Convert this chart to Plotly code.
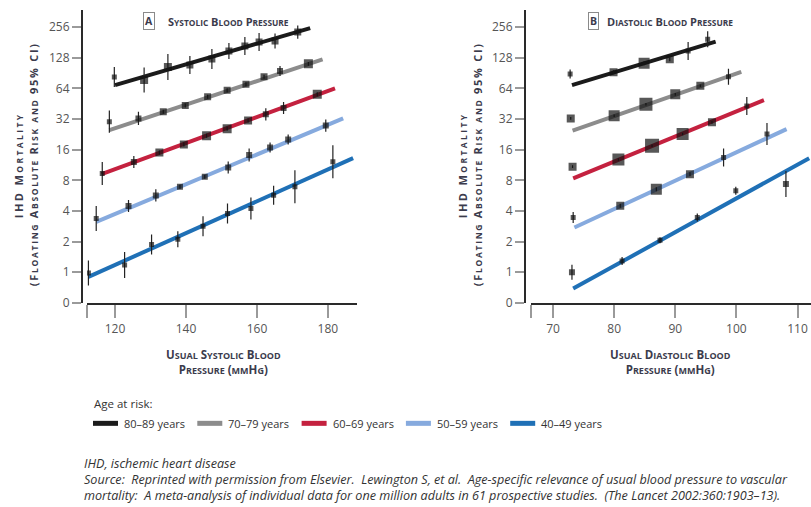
import plotly.graph_objects as go

# ---------------- data ----------------
age_groups = ["80–89 years", "70–79 years", "60–69 years", "50–59 years", "40–49 years"]
group_colors = ["#1b1b1b", "#8c8c8c", "#c4213f", "#86aade", "#1f70b6"]

# Panel A: usual systolic blood pressure (mmHg) vs IHD mortality
sbp_x = [
    [119.8, 128.2, 134.9, 141.1, 147.3, 152.1, 156.6, 160.6, 165.1, 171.5],
    [118.4, 126.6, 133.6, 139.8, 146.1, 151.6, 156.9, 162.0, 166.5, 174.5],
    [116.4, 125.3, 132.5, 139.4, 145.8, 151.6, 157.5, 162.5, 167.5, 177.0],
    [114.7, 123.8, 131.5, 138.3, 145.3, 151.9, 157.8, 163.7, 168.8, 179.4],
    [112.5, 122.7, 130.3, 137.7, 144.8, 151.7, 158.3, 164.7, 170.7, 181.4],
]
sbp_risk = [
    [82.8, 77.4, 104.0, 108.7, 124.6, 149.3, 167.5, 183.0, 187.0, 229.0],
    [30.2, 32.5, 37.8, 43.6, 53.1, 61.3, 70.2, 83.4, 95.0, 111.6],
    [9.35, 12.1, 15.0, 18.0, 21.9, 25.7, 31.0, 35.6, 41.1, 56.1],
    [3.37, 4.48, 5.69, 6.91, 8.65, 10.67, 14.2, 16.8, 20.2, 27.6],
    [0.98, 1.18, 1.87, 2.11, 2.83, 3.78, 4.23, 5.72, 6.91, 12.2],
]
# multiplicative half-width of the 95% CI (risk / f .. risk * f)
sbp_ci = [
    [1.254, 1.327, 1.342, 1.226, 1.254, 1.199, 1.226, 1.226, 1.185, 1.159],
    [1.283, 1.159, 1.046, 1.046, 1.046, 1.046, 1.046, 1.046, 1.120, 1.046],
    [1.297, 1.146, 1.046, 1.046, 1.046, 1.046, 1.046, 1.146, 1.146, 1.046],
    [1.327, 1.146, 1.146, 1.046, 1.046, 1.146, 1.159, 1.120, 1.120, 1.146],
    [1.327, 1.342, 1.254, 1.199, 1.254, 1.254, 1.283, 1.240, 1.453, 1.453],
]
# square size reflects the amount of information in each group
sbp_weight = [
    [5, 8, 8, 7, 7, 7, 7, 7, 7, 7],
    [5, 6, 7, 7, 7, 7, 7, 7, 6, 9],
    [5, 6, 8, 8, 9, 9, 8, 6, 6, 9],
    [5, 6, 6, 6, 6, 6, 6, 6, 6, 6],
    [5, 5, 5, 5, 5, 5, 5, 5, 5, 5],
]
# fitted regression lines: (bp start, bp end), (risk start, risk end)
sbp_fit_x = [[120.0, 175.0], [118.4, 178.5], [116.2, 182.0], [114.7, 184.3], [112.5, 187.1]]
sbp_fit_y = [[69.0, 251.0], [24.9, 123.7], [9.2, 64.0], [3.12, 32.5], [0.9, 13.2]]

# Panel B: usual diastolic blood pressure (mmHg) vs IHD mortality
dbp_x = [
    [72.8, 79.9, 84.9, 89.1, 92.1, 95.3],
    [72.9, 80.0, 85.2, 90.0, 94.1, 98.7],
    [73.2, 80.7, 86.2, 91.2, 96.0, 101.7],
    [73.3, 81.0, 86.9, 92.4, 97.9, 105.0],
    [73.1, 81.3, 87.5, 93.6, 99.9, 108.1],
]
dbp_risk = [
    [88.7, 92.3, 113.0, 123.7, 149.3, 194.5],
    [32.5, 34.5, 44.7, 56.0, 68.0, 83.4],
    [10.9, 12.8, 17.5, 22.8, 29.7, 42.9],
    [3.45, 4.49, 6.55, 9.2, 13.4, 22.8],
    [1.0, 1.29, 2.06, 3.45, 6.31, 7.35],
]
dbp_ci = [
    [1.107, 1.046, 1.046, 1.046, 1.226, 1.199],
    [1.030, 1.030, 1.030, 1.030, 1.030, 1.199],
    [1.030, 1.030, 1.030, 1.030, 1.030, 1.226],
    [1.133, 1.046, 1.046, 1.046, 1.226, 1.283],
    [1.185, 1.095, 1.070, 1.095, 1.095, 1.342],
]
dbp_weight = [
    [5, 8, 11, 8, 5, 5],
    [8, 11, 13, 10, 8, 5],
    [8, 12, 14, 12, 8, 5],
    [5, 8, 11, 8, 5, 5],
    [6, 5, 5, 5, 5, 6],
]
dbp_fit_x = [[73.1, 96.6], [73.2, 100.8], [73.3, 104.5], [73.5, 108.2], [73.3, 111.9]]
dbp_fit_y = [[69.1, 184.6], [24.6, 93.0], [8.35, 49.2], [2.75, 25.5], [0.69, 13.2]]

risk_ticks = [0.5, 1, 2, 4, 8, 16, 32, 64, 128, 256]
risk_ticktext = ["0", "1", "2", "4", "8", "16", "32", "64", "128", "256"]
sbp_ticks = [112.1, 120, 140, 160, 180]
sbp_ticktext = ["", "120", "140", "160", "180"]
dbp_ticks = [66.4, 70, 80, 90, 100, 110]
dbp_ticktext = ["", "70", "80", "90", "100", "110"]

# ---------------- helpers ----------------
TITLE_COLOR = "#3b3b4c"
TEXT_FONT = "Open Sans"
W, H = 811, 507
H_PLACE = 498.6  # vertical extent used when placing items in paper coordinates


def px_x(p):
    return p / W


def px_y(p):
    return 1 - p / H_PLACE


def small_caps(text, small_px, spacing=0):
    """Render lowercase letters as reduced capitals."""
    out = []
    sp = f"letter-spacing:{spacing}px;" if spacing else ""
    buf, lower = "", None

    def flush():
        if not buf:
            return
        if lower:
            out.append(f'<span style="font-size:{small_px}px;{sp}">{buf.upper()}</span>')
        else:
            out.append(f'<span style="{sp}">{buf}</span>' if sp else buf)

    for ch in text:
        is_low = ch.islower()
        if lower is None or is_low == lower:
            buf += ch
            lower = is_low
        else:
            flush()
            buf, lower = ch, is_low
    flush()
    return "".join(out)


fig = go.Figure()


def add_panel(xs, ys, cis, weights, fit_x, fit_y, xref, yref):
    for i, name in enumerate(age_groups):
        fig.add_trace(go.Scatter(
            x=fit_x[i], y=fit_y[i], mode="lines", name=name,
            line=dict(color=group_colors[i], width=4),
            xaxis=xref, yaxis=yref, hoverinfo="skip",
        ))
    for i, name in enumerate(age_groups):
        plus = [v * (f - 1) for v, f in zip(ys[i], cis[i])]
        minus = [v * (1 - 1 / f) for v, f in zip(ys[i], cis[i])]
        fig.add_trace(go.Scatter(
            x=xs[i], y=ys[i], mode="markers", name=name,
            marker=dict(symbol="square", size=weights[i], color="#111111",
                        line=dict(width=0)),
            error_y=dict(type="data", symmetric=False, array=plus, arrayminus=minus,
                         color="#222222", thickness=1.2, width=0),
            xaxis=xref, yaxis=yref,
        ))


add_panel(sbp_x, sbp_risk, sbp_ci, sbp_weight, sbp_fit_x, sbp_fit_y, "x", "y")
add_panel(dbp_x, dbp_risk, dbp_ci, dbp_weight, dbp_fit_x, dbp_fit_y, "x2", "y2")

y_dom = [px_y(303), px_y(10)]

common_y = dict(
    type="log", range=[-0.305, 2.577], domain=y_dom, anchor="free",
    tickvals=risk_ticks, ticktext=risk_ticktext,
    showline=True, linecolor="#2a2a2a", linewidth=2,
    ticks="outside", ticklen=9, tickwidth=1.5, tickcolor="#9a9a9a",
    showgrid=False, zeroline=False,
    tickfont=dict(family=TEXT_FONT, size=12, color="#555555"),
)
common_x = dict(
    showline=True, linecolor="#2a2a2a", linewidth=2,
    ticks="outside", ticklen=13, tickwidth=1.5, tickcolor="#9a9a9a",
    showgrid=False, zeroline=False,
    tickfont=dict(family=TEXT_FONT, size=12, color="#555555"),
)

fig.update_layout(
    width=W, height=H, margin=dict(l=0, r=0, t=0, b=0),
    paper_bgcolor="white", plot_bgcolor="white", showlegend=False,
    xaxis=dict(common_x, domain=[px_x(87), px_x(357)], range=[112.1, 188.2], anchor="y",
               tickvals=sbp_ticks, ticktext=sbp_ticktext),
    yaxis=dict(common_y, position=px_x(82)),
    xaxis2=dict(common_x, domain=[px_x(531), 1.0], range=[66.4, 112.2], anchor="y2",
                tickvals=dbp_ticks, ticktext=dbp_ticktext),
    yaxis2=dict(common_y, position=px_x(525)),
)

ann = []
shapes = []


def paper_text(x, y, text, size=11, bold=True, color=TITLE_COLOR, angle=0, align="center",
               xanchor="center", italic=False, family=TEXT_FONT):
    ann.append(dict(
        xref="paper", yref="paper", x=px_x(x), y=px_y(y), text=text, showarrow=False,
        textangle=angle, xanchor=xanchor, yanchor="middle", align=align,
        font=dict(family=family, size=size, color=color,
                  weight=700 if bold else 400, style="italic" if italic else "normal"),
    ))


# panel headings with boxed letters
for letter, heading, bx, tx in [("A", "Systolic Blood Pressure", 149, 166),
                                ("B", "Diastolic Blood Pressure", 593, 605)]:
    ann.append(dict(
        xref="paper", yref="paper", x=px_x(bx), y=px_y(21), text=letter, showarrow=False,
        xanchor="center", yanchor="middle", bordercolor="#8a8a8a", borderwidth=1, borderpad=1,
        font=dict(family=TEXT_FONT, size=10.5, color=TITLE_COLOR, weight=700),
    ))
    paper_text(tx, 21, small_caps(heading, 8.4), size=11, xanchor="left")

# axis titles
for cx, word in [(224, "Systolic"), (670, "Diastolic")]:
    paper_text(cx, 362, small_caps(f"Usual {word} Blood", 9) + "<br>" +
               small_caps("Pressure (mmHg)", 9), size=11.5)

for x0, x1 in [(18, 33), (462, 477)]:
    paper_text(x0, 165, small_caps("IHD Mortality", 8.5, 2.4), size=11, angle=-90)
    paper_text(x1, 164, small_caps("(Floating Absolute Risk and 95% CI)", 8.5, 1.7),
               size=11, angle=-90)

# legend
paper_text(92, 403, "Age at risk:", size=11.5, bold=False, color="#333333", xanchor="left")
for i, name in enumerate(age_groups):
    x0 = 93 + i * 104.3
    shapes.append(dict(type="rect", xref="paper", yref="paper",
                       x0=px_x(x0), x1=px_x(x0 + 25), y0=px_y(425.5), y1=px_y(420.5),
                       fillcolor=group_colors[i], line=dict(width=0)))
    paper_text(x0 + 29, 423, name, size=11, bold=False, color="#333333", xanchor="left")

# footnotes
foot = [
    "IHD, ischemic heart disease",
    "Source:  Reprinted with permission from Elsevier.  Lewington S, et al.  "
    "Age-specific relevance of usual blood pressure to vascular",
    "mortality:  A meta-analysis of individual data for one million adults in "
    "61 prospective studies.  (The Lancet 2002:360:1903–13).",
]
for k, line in enumerate(foot):
    paper_text(82, 463 + 16 * k, line, size=12.6, bold=False, color="#333333",
               xanchor="left", italic=True)

fig.update_layout(annotations=ann, shapes=shapes)

fig.write_html("out.html")
